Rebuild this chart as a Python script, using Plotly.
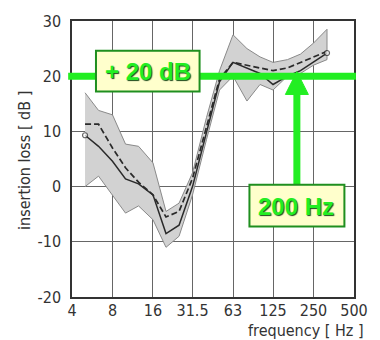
import math
import plotly.graph_objects as go

# third-octave band centre frequencies (Hz)
freqs = [5, 6.3, 8, 10, 12.5, 16, 20, 25, 31.5, 40, 50, 63, 80, 100, 125, 160, 200, 250, 315]
# insertion loss curves (dB)
solid = [9.3, 7.3, 4.6, 1.4, 0.5, -1.5, -8.5, -7.0, 0.0, 10.0, 19.0, 22.5, 21.5, 20.5, 18.5, 20.0, 21.0, 22.5, 24.2]
dashed = [11.3, 11.3, 7.0, 3.4, 0.8, -1.5, -5.5, -4.5, 1.5, 11.0, 19.5, 22.5, 22.0, 21.5, 21.0, 21.5, 22.5, 23.5, 24.5]
band_upper = [17.0, 13.8, 13.0, 7.7, 7.3, 4.3, -4.5, -3.0, 2.5, 12.5, 21.0, 27.5, 25.0, 23.5, 22.5, 23.0, 24.0, 26.0, 28.5]
band_lower = [0.0, 1.9, -1.5, -4.8, -3.5, -6.0, -11.0, -9.0, -1.5, 8.5, 17.5, 20.0, 15.5, 18.5, 17.5, 20.0, 20.5, 22.0, 23.0]

x_ticks = [4, 8, 16, 31.5, 63, 125, 250, 500]
x_ticktext = ["4", "8", "16", "31.5", "63", "125", "250", "500"]
y_ticks = [-20, -10, 0, 10, 20, 30]
y_ticktext = ["-20", "-10", "0", "10", "20", "30"]

level_db = 20          # "+ 20 dB" line
arrow_hz = 188         # "200 Hz" arrow position
label_level = "+ 20 dB"
label_freq = "200 Hz"

W, H = 380, 340
ML, MR, MT, MB = 72, 14, 19, 43
PW, PH = W - ML - MR, H - MT - MB
XMIN, XMAX = math.log10(4), math.log10(500)
YMIN, YMAX = -20, 30


def px_x(p):
    return (p - ML) / PW


def px_y(p):
    return (H - MB - p) / PH


def hz_paper(f):
    return (math.log10(f) - XMIN) / (XMAX - XMIN)


def db_from_px(p):
    return YMAX - (p - MT) / PH * (YMAX - YMIN)


TICKFONT = dict(family="Liberation Sans Narrow, DejaVu Sans Condensed, sans-serif", size=16, color="#333333")
TITLEFONT = dict(family="Liberation Sans Narrow, DejaVu Sans Condensed, sans-serif", size=16, color="#333333")
GREEN = "#22ee22"
DARKGREEN = "#1f8f1f"

fig = go.Figure()

# grey scatter band
fig.add_trace(go.Scatter(
    x=freqs + freqs[::-1], y=band_upper + band_lower[::-1],
    fill="toself", fillcolor="#d2d2d2", mode="lines",
    line=dict(color="#8a8a8a", width=1), hoverinfo="skip", showlegend=False))

end_sizes = [5] + [0] * (len(freqs) - 2) + [5]
fig.add_trace(go.Scatter(
    x=freqs, y=dashed, mode="lines",
    line=dict(color="#2a2a2a", width=1.7, dash="6px,3px"), showlegend=False))
fig.add_trace(go.Scatter(
    x=freqs, y=solid, mode="lines+markers",
    line=dict(color="#2a2a2a", width=1.5),
    marker=dict(size=end_sizes, color="white", line=dict(color="#2a2a2a", width=1.2)),
    showlegend=False))

shapes = []
# green level line
shapes.append(dict(type="line", xref="paper", yref="y", x0=px_x(68), x1=px_x(368),
                   y0=level_db, y1=level_db, line=dict(color=GREEN, width=7)))
# arrow shaft + head
ax = hz_paper(arrow_hz)
head_base = db_from_px(93)
tip = db_from_px(70)
box2_top = db_from_px(184)
shapes.append(dict(type="line", xref="paper", yref="y", x0=ax, x1=ax,
                   y0=box2_top, y1=head_base + 0.3, line=dict(color=GREEN, width=7)))
hw = 12 / PW
shapes.append(dict(type="path", xref="paper", yref="y",
                   path=f"M {ax - hw},{head_base} L {ax + hw},{head_base} L {ax},{tip} Z",
                   fillcolor=GREEN, line=dict(color=GREEN, width=1)))
# label boxes
shapes.append(dict(type="rect", xref="paper", yref="paper",
                   x0=px_x(97), x1=px_x(205), y0=px_y(90), y1=px_y(49),
                   fillcolor="#ffffcc", line=dict(color=DARKGREEN, width=2)))
shapes.append(dict(type="rect", xref="paper", yref="paper",
                   x0=px_x(257), x1=px_x(356), y0=px_y(226), y1=px_y(184),
                   fillcolor="#ffffcc", line=dict(color=DARKGREEN, width=2)))

LABELFONT = dict(family="Liberation Sans, Arial, sans-serif", size=24, color=GREEN,
                 weight="bold", shadow="1px 1px 1px #1a4a1a")
annotations = [
    dict(text=label_level, xref="paper", yref="paper", x=px_x(151), y=px_y(70),
         showarrow=False, font=LABELFONT, xanchor="center", yanchor="middle"),
    dict(text=label_freq, xref="paper", yref="paper", x=px_x(306), y=px_y(206),
         showarrow=False, font=LABELFONT, xanchor="center", yanchor="middle"),
    dict(text="frequency [ Hz ]", xref="paper", yref="paper", x=px_x(378), y=px_y(331),
         showarrow=False, font=TITLEFONT, xanchor="right", yanchor="middle"),
    dict(text="insertion loss [ dB ]", xref="paper", yref="paper", x=px_x(23), y=px_y(160),
         showarrow=False, font=TITLEFONT, textangle=-90, xanchor="center", yanchor="middle"),
]

fig.update_layout(
    width=W, height=H, margin=dict(l=ML, r=MR, t=MT, b=MB),
    paper_bgcolor="white", plot_bgcolor="white",
    shapes=shapes, annotations=annotations, showlegend=False,
    xaxis=dict(type="log", range=[XMIN - 1e-4, XMAX + 1e-4], tickvals=x_ticks, ticktext=x_ticktext,
               showgrid=True, gridcolor="#666666", gridwidth=1, zeroline=False,
               showline=True, linecolor="#333333", linewidth=1.5, mirror=True,
               ticks="", tickfont=TICKFONT, ticklabelstandoff=-2),
    yaxis=dict(range=[YMIN, YMAX], tickvals=y_ticks, ticktext=y_ticktext,
               showgrid=True, gridcolor="#666666", gridwidth=1, zeroline=False,
               showline=True, linecolor="#333333", linewidth=1.5, mirror=True,
               ticks="", tickfont=TICKFONT, ticklabelstandoff=6),
)

fig.write_html("out.html")
